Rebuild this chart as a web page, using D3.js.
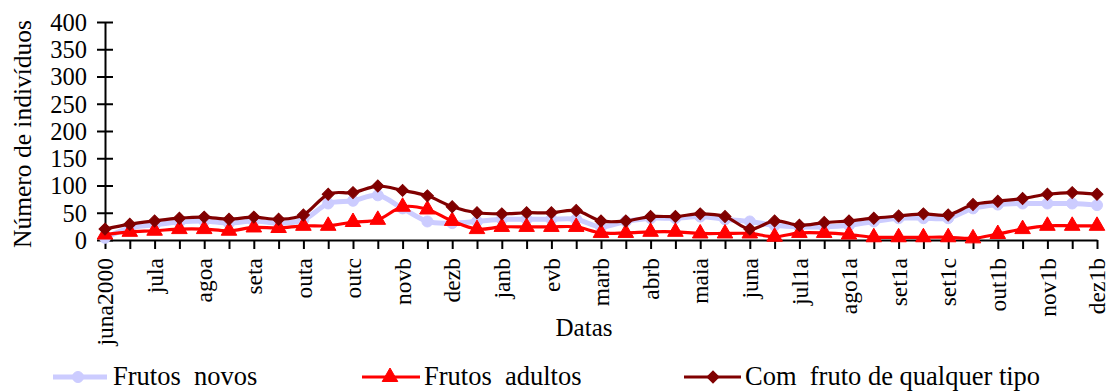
<!DOCTYPE html>
<html>
<head>
<meta charset="utf-8">
<script src="https://cdn.jsdelivr.net/npm/d3@7"></script>
<style>
  html, body { margin: 0; padding: 0; background: #fff; }
  svg { display: block; font-family: "Liberation Serif", "Times New Roman", serif; }
</style>
</head>
<body>
<svg id="chart" width="1112" height="391"></svg>
<script>
// ---- data ----
const tickLabels = ["juna2000", "jula", "agoa", "seta", "outa", "outc", "novb", "dezb", "janb", "evb",
  "marb", "abrb", "maia", "juna", "jul1a", "ago1a", "set1a", "set1c", "out1b", "nov1b", "dez1b"];
const pointIndex = d3.range(41); // 41 sampling dates, every second one labelled
const frutosNovos = [4, 22, 28, 33, 35, 31, 35, 31, 37, 67, 72, 82, 58, 34, 31, 34, 38, 38, 38, 38,
  24, 34, 40, 40, 43, 38, 34, 27, 24, 24, 27, 34, 40, 40, 40, 58, 65, 67, 67, 67, 64];
const frutosAdultos = [10, 15, 17, 20, 20, 17, 23, 22, 26, 26, 33, 37, 61, 56, 35, 20, 24, 24, 24, 24,
  13, 13, 15, 15, 12, 12, 12, 6, 13, 13, 10, 5, 5, 5, 5, 3, 11, 20, 26, 26, 26];
const comFruto = [20, 29, 35, 40, 42, 38, 42, 38, 46, 84, 87, 99, 91, 81, 61, 50, 48, 50, 50, 54,
  35, 35, 43, 43, 48, 43, 20, 35, 27, 32, 35, 40, 44, 48, 46, 65, 71, 76, 84, 87, 84];
const yTicks = [0, 50, 100, 150, 200, 250, 300, 350, 400];
const seriesNames = ["Frutos  novos", "Frutos  adultos", "Com  fruto de qualquer tipo"];

// ---- layout ----
const svg = d3.select("#chart");
const x = d3.scaleLinear().domain([0, 40]).range([105, 1097]);
const y = d3.scaleLinear().domain([0, 400]).range([240, 22]);

const series = [
  { name: seriesNames[0], values: frutosNovos, color: "#ccccff", width: 5, marker: "circle" },
  { name: seriesNames[1], values: frutosAdultos, color: "#ff0000", width: 3.2, marker: "triangle" },
  { name: seriesNames[2], values: comFruto, color: "#800000", width: 3.2, marker: "diamond" }
];

// ---- axes ----
const yAxis = d3.axisLeft(y).tickValues(yTicks).tickSize(0).tickPadding(0).tickFormat(d3.format("d"));
const gy = svg.append("g").attr("transform", "translate(105,0)").call(yAxis);
gy.select(".domain").attr("stroke", "#000").attr("stroke-width", 2);
gy.selectAll(".tick line").remove();
gy.selectAll(".tick").append("line").attr("x1", -8).attr("x2", 8)
  .attr("stroke", "#000").attr("stroke-width", 2);
gy.selectAll(".tick text").attr("x", -18).attr("dy", "0.34em")
  .attr("fill", "#000").style("font-size", "24.5px").style("font-family", "Liberation Serif");

const xAxis = d3.axisBottom(x).tickValues(pointIndex).tickSize(9).tickSizeOuter(0)
  .tickFormat(i => i % 2 === 0 ? tickLabels[i / 2] : "");
const gx = svg.append("g").attr("transform", "translate(0,240)").call(xAxis);
gx.select(".domain").attr("stroke", "#000").attr("stroke-width", 2);
gx.selectAll(".tick line").attr("stroke", "#000").attr("stroke-width", 2);
gx.selectAll(".tick text")
  .attr("transform", "rotate(-90)")
  .attr("x", -18).attr("y", 0).attr("dy", "0.33em")
  .attr("text-anchor", "end")
  .attr("fill", "#000").style("font-size", "23.5px").style("font-family", "Liberation Serif");

// ---- titles ----
svg.append("text").attr("transform", "translate(31,134) rotate(-90)")
  .attr("text-anchor", "middle").style("font-size", "25.5px").attr("fill", "#000")
  .text("Número de indivíduos");
svg.append("text").attr("x", 584).attr("y", 336)
  .attr("text-anchor", "middle").style("font-size", "25px").attr("fill", "#000")
  .text("Datas");

// ---- markers ----
const sym = {
  circle: d3.symbol().type(d3.symbolCircle).size(95),
  triangle: d3.symbol().type(d3.symbolTriangle).size(105),
  diamond: d3.symbol().type(d3.symbolSquare).size(72)
};
function drawMarker(g, s, cx, cy) {
  const p = g.append("path").attr("d", sym[s.marker]())
    .attr("fill", s.color).attr("stroke", s.color).attr("stroke-width", 1);
  if (s.marker === "diamond") p.attr("transform", `translate(${cx},${cy}) rotate(45)`);
  else p.attr("transform", `translate(${cx},${cy})`);
}

// ---- lines ----
const line = d3.line().x((d, i) => x(i)).y(d => y(d)).curve(d3.curveCatmullRom.alpha(0));
series.forEach(s => {
  const g = svg.append("g");
  g.append("path").datum(s.values).attr("d", line)
    .attr("fill", "none").attr("stroke", s.color).attr("stroke-width", s.width)
    .attr("stroke-linejoin", "round");
  s.values.forEach((v, i) => drawMarker(g, s, x(i), y(v)));
});

// ---- legend ----
const legendPos = [
  { x1: 53, x2: 107, mx: 78, tx: 113 },
  { x1: 362, x2: 420, mx: 390, tx: 424 },
  { x1: 684, x2: 741, mx: 713, tx: 745 }
];
series.forEach((s, k) => {
  const L = legendPos[k];
  const g = svg.append("g");
  g.append("line").attr("x1", L.x1).attr("x2", L.x2).attr("y1", 377).attr("y2", 377)
    .attr("stroke", s.color).attr("stroke-width", s.width);
  drawMarker(g, s, L.mx, 377);
  g.append("text").attr("x", L.tx).attr("y", 385).style("font-size", "26.5px")
    .style("white-space", "pre").attr("fill", "#000").text(s.name);
});
</script>
</body>
</html>
